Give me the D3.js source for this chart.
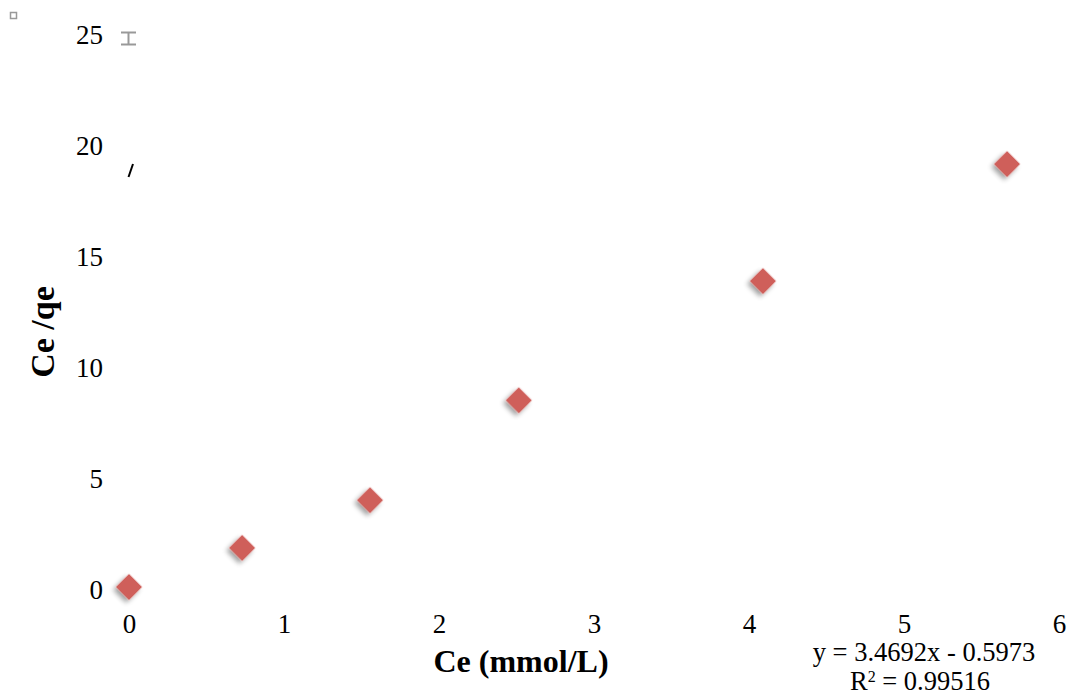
<!DOCTYPE html>
<html>
<head>
<meta charset="utf-8">
<script src="https://cdn.jsdelivr.net/npm/d3@7"></script>
<style>
  html, body { margin: 0; padding: 0; background: #fff; }
  svg { display: block; }
  text { font-family: "Liberation Serif", "DejaVu Serif", serif; }
</style>
</head>
<body>
<svg id="chart" width="1070" height="698"></svg>
<script>
// Langmuir linear plot: Ce/qe against Ce
const ceValues = [0.0, 0.73, 1.555, 2.515, 4.09, 5.665];
const ceQeValues = [0.09, 1.85, 4.0, 8.5, 13.87, 19.14];
const xTicks = [0, 1, 2, 3, 4, 5, 6];
const yTicks = [0, 5, 10, 15, 20, 25];
const fitSlope = 3.4692;
const fitIntercept = -0.5973;
const fitR2 = "0.99516";

const svg = d3.select("#chart");

const x = d3.scaleLinear().domain([0, 6]).range([129, 1059]);
const y = d3.scaleLinear().domain([0, 25]).range([589, 34]);

const points = ceValues.map((v, i) => ({ x: v, y: ceQeValues[i] }));

// soft drop shadow under the markers
const defs = svg.append("defs");
const shadow = defs.append("filter").attr("id", "shadow")
  .attr("x", "-50%").attr("y", "-50%").attr("width", "200%").attr("height", "220%");
shadow.append("feGaussianBlur").attr("in", "SourceAlpha").attr("stdDeviation", 2.5).attr("result", "b");
shadow.append("feOffset").attr("in", "b").attr("dx", 0).attr("dy", 4).attr("result", "o");
shadow.append("feComponentTransfer").attr("in", "o").attr("result", "s")
  .append("feFuncA").attr("type", "linear").attr("slope", 0.38);
const merge = shadow.append("feMerge");
merge.append("feMergeNode").attr("in", "s");
merge.append("feMergeNode").attr("in", "SourceGraphic");

// y axis tick labels
svg.append("g")
  .attr("transform", `translate(${x(0) - 26},0)`)
  .call(d3.axisLeft(y).tickValues(yTicks).tickFormat(d3.format("d")).tickSize(0).tickPadding(0))
  .call(g => g.select(".domain").remove())
  .call(g => g.selectAll("text")
    .attr("font-family", "Liberation Serif, serif")
    .attr("font-size", 27).attr("fill", "#000").attr("dy", "0.35em"));

// x axis tick labels
svg.append("g")
  .attr("transform", `translate(0,${y(0) + 25})`)
  .call(d3.axisBottom(x).tickValues(xTicks).tickFormat(d3.format("d")).tickSize(0).tickPadding(0))
  .call(g => g.select(".domain").remove())
  .call(g => g.selectAll("text")
    .attr("font-family", "Liberation Serif, serif")
    .attr("font-size", 27).attr("fill", "#000").attr("dy", "0.72em"));

// markers
svg.append("g").selectAll("path")
  .data(points)
  .join("path")
  .attr("d", d3.symbol().type(d3.symbolSquare).size(340))
  .attr("transform", d => `translate(${x(d.x)},${y(d.y)}) rotate(45)`)
  .attr("fill", "#cf5f5a")
  .attr("filter", "url(#shadow)");

// axis titles
svg.append("text")
  .attr("x", 521).attr("y", 672)
  .attr("text-anchor", "middle")
  .attr("font-size", 32).attr("font-weight", "bold")
  .text("Ce (mmol/L)");

svg.append("text")
  .attr("transform", "translate(54,332) rotate(-90)")
  .attr("text-anchor", "middle")
  .attr("font-size", 34).attr("font-weight", "bold")
  .text("Ce /qe");

// trendline equation
const sign = fitIntercept < 0 ? " - " : " + ";
svg.append("text")
  .attr("x", 924).attr("y", 661)
  .attr("text-anchor", "middle")
  .attr("font-size", 26.5)
  .text(`y = ${fitSlope}x${sign}${Math.abs(fitIntercept)}`);

const r2 = svg.append("text")
  .attr("x", 920).attr("y", 690)
  .attr("text-anchor", "middle")
  .attr("font-size", 26.5);
r2.append("tspan").text("R");
r2.append("tspan").attr("baseline-shift", "super").attr("font-size", 16).text("2");
r2.append("tspan").text(" = " + fitR2);

// small editing handles
svg.append("rect").attr("x", 10.5).attr("y", 12.5).attr("width", 6).attr("height", 6)
  .attr("fill", "none").attr("stroke", "#999").attr("stroke-width", 1.5);
svg.append("path").attr("d", "M121,32.5H136M121,44.5H136M128.5,32.5V44.5")
  .attr("fill", "none").attr("stroke", "#999").attr("stroke-width", 2);
svg.append("path").attr("d", "M133,164L128.5,177")
  .attr("stroke", "#000").attr("stroke-width", 2);
</script>
</body>
</html>
